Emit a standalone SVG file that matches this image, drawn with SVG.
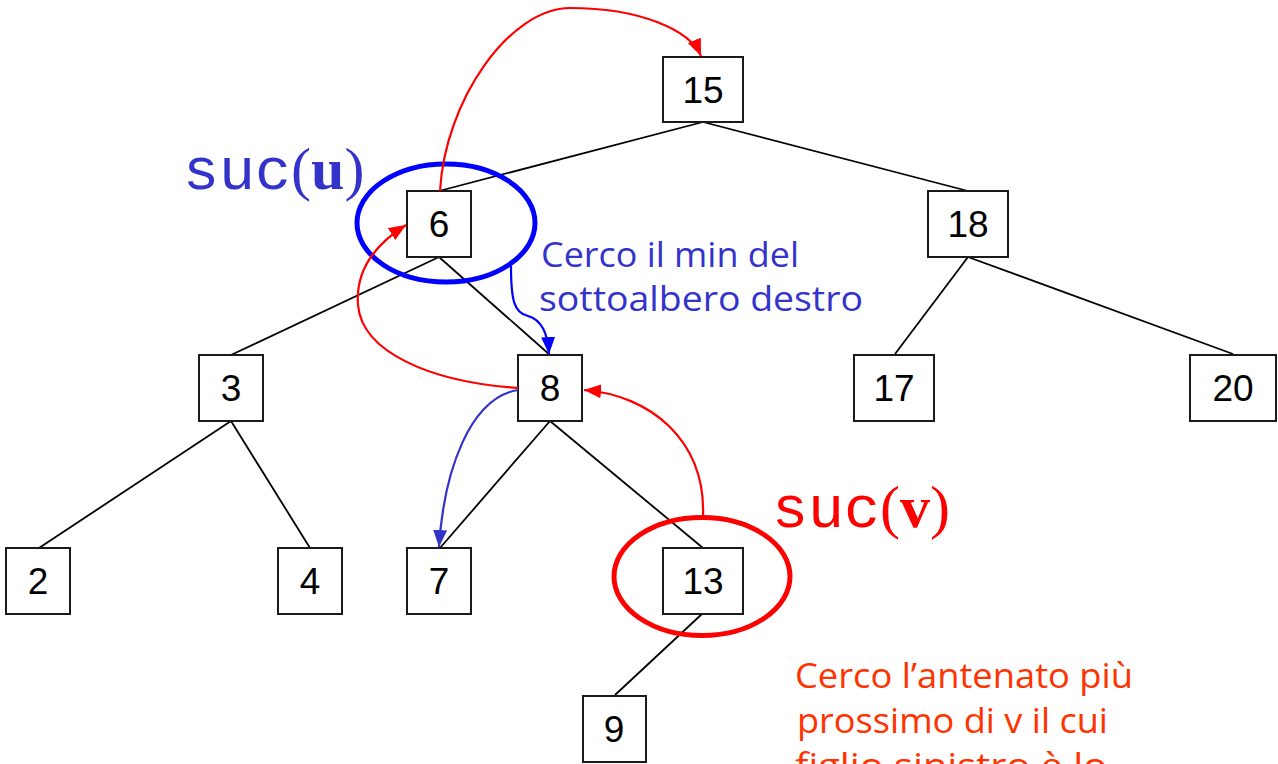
<svg xmlns="http://www.w3.org/2000/svg" width="1278" height="764" viewBox="0 0 1278 764">
<defs>
<style>
.box{fill:#fff;stroke:#1a1a1a;stroke-width:2}
.lbl{font-family:"Liberation Sans",Arial,sans-serif;font-size:37px;fill:#000;text-anchor:middle}
.edge{stroke:#000;stroke-width:1.8;fill:none}
.red{stroke:#ff0000;stroke-width:2.2;fill:none}
.blue{stroke:#0000ff;stroke-width:2.2;fill:none}
.blue2{stroke:#3333cc;stroke-width:2.2;fill:none}
.note{font-family:"Open Sans","Liberation Sans",sans-serif;font-size:35px}
.mono{font-family:"Liberation Mono","Courier New",monospace;font-size:60px}
.serif{font-family:"Liberation Serif","Times New Roman",serif;font-size:60px}
</style>
<marker id="ar" markerUnits="userSpaceOnUse" markerWidth="18" markerHeight="14" refX="17" refY="7" orient="auto"><path d="M0,0 L17,7 L0,14 z" fill="#ff0000"/></marker>
<marker id="ab" markerUnits="userSpaceOnUse" markerWidth="18" markerHeight="14" refX="17" refY="7" orient="auto"><path d="M0,0 L17,7 L0,14 z" fill="#0000ff"/></marker>
<marker id="ab2" markerUnits="userSpaceOnUse" markerWidth="18" markerHeight="14" refX="17" refY="7" orient="auto"><path d="M0,0 L17,7 L0,14 z" fill="#3333cc"/></marker>
</defs>
<rect width="1278" height="764" fill="#fff"/>

<g id="connectors">
<line class="edge" x1="703" y1="122" x2="439" y2="191"/>
<line class="edge" x1="703" y1="122" x2="968" y2="191"/>
<line class="edge" x1="439" y1="257" x2="231" y2="355"/>
<line class="edge" x1="439" y1="257" x2="550" y2="355"/>
<line class="edge" x1="968" y1="257" x2="895" y2="354"/>
<line class="edge" x1="968" y1="257" x2="1233" y2="354"/>
<line class="edge" x1="231" y1="421" x2="39" y2="548"/>
<line class="edge" x1="231" y1="421" x2="310" y2="548"/>
<line class="edge" x1="550" y1="421" x2="440" y2="548"/>
<line class="edge" x1="550" y1="421" x2="703" y2="548"/>
<line class="edge" x1="703" y1="613" x2="615" y2="695"/>
</g>

<g id="node-15"><rect class="box" x="663" y="57" width="80" height="65"/><text class="lbl" x="703" y="103">15</text></g>
<g id="node-6"><rect class="box" x="407" y="191" width="64" height="66"/><text class="lbl" x="439" y="237">6</text></g>
<g id="node-18"><rect class="box" x="928" y="191" width="80" height="66"/><text class="lbl" x="968" y="237">18</text></g>
<g id="node-3"><rect class="box" x="199" y="355" width="64" height="66"/><text class="lbl" x="231" y="401">3</text></g>
<g id="node-8"><rect class="box" x="518" y="355" width="64" height="66"/><text class="lbl" x="550" y="401">8</text></g>
<g id="node-17"><rect class="box" x="854" y="355" width="80" height="66"/><text class="lbl" x="894" y="401">17</text></g>
<g id="node-20"><rect class="box" x="1190" y="355" width="86" height="66"/><text class="lbl" x="1233" y="401">20</text></g>
<g id="node-2"><rect class="box" x="6" y="548" width="64" height="66"/><text class="lbl" x="38" y="594">2</text></g>
<g id="node-4"><rect class="box" x="278" y="548" width="64" height="66"/><text class="lbl" x="310" y="594">4</text></g>
<g id="node-7"><rect class="box" x="407" y="548" width="64" height="66"/><text class="lbl" x="439" y="594">7</text></g>
<g id="node-13"><rect class="box" x="663" y="548" width="80" height="66"/><text class="lbl" x="703" y="594">13</text></g>
<g id="node-9"><rect class="box" x="583" y="696" width="63" height="66"/><text class="lbl" x="614" y="742">9</text></g>

<g id="highlights">
<ellipse cx="446" cy="223" rx="89" ry="59" fill="none" stroke="#0000ff" stroke-width="5"/>
<ellipse cx="702" cy="576.5" rx="88" ry="59" fill="none" stroke="#ff0000" stroke-width="5"/>
</g>

<g id="arrows">
<path class="red" marker-end="url(#ar)" d="M440,191 C445,100 510,8 570,8 C640,8 690,30 701,56"/>
<path class="red" marker-end="url(#ar)" d="M518,388 C430,382 362,352 358,305 C355,265 382,240 406,225"/>
<path class="red" marker-end="url(#ar)" d="M703,517 C706,440 650,395 584,390"/>
<path class="blue" marker-end="url(#ab)" d="M511,266 C511,300 514,313 528,316 C542,320 548,335 549,354"/>
<path class="blue2" marker-end="url(#ab2)" d="M518,390 C470,398 444,470 439,547"/>
</g>

<g id="labels">
<text x="183" y="189" fill="#3333cc"><tspan class="mono">suc</tspan><tspan class="serif">(</tspan><tspan class="serif" font-weight="bold">u</tspan><tspan class="serif">)</tspan></text>
<text x="772" y="527" fill="#ff0000"><tspan class="mono">suc</tspan><tspan class="serif">(</tspan><tspan class="serif" font-weight="bold">v</tspan><tspan class="serif">)</tspan></text>
<text class="note" fill="#3333cc" x="541" y="267" textLength="258" lengthAdjust="spacingAndGlyphs">Cerco il min del</text>
<text class="note" fill="#3333cc" x="539" y="311" textLength="324" lengthAdjust="spacingAndGlyphs">sottoalbero destro</text>
<text class="note" fill="#ff3300" x="795" y="688" textLength="338" lengthAdjust="spacingAndGlyphs">Cerco l’antenato più</text>
<text class="note" fill="#ff3300" x="797" y="733" textLength="311" lengthAdjust="spacingAndGlyphs">prossimo di v il cui</text>
<text class="note" fill="#ff3300" x="795" y="778" textLength="312" lengthAdjust="spacingAndGlyphs">figlio sinistro è lo</text>
</g>
</svg>
